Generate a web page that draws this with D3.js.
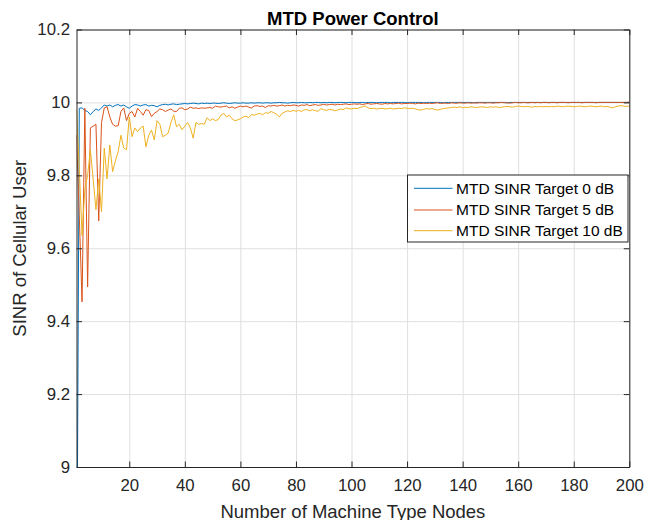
<!DOCTYPE html>
<html>
<head>
<meta charset="utf-8">
<script src="https://cdn.jsdelivr.net/npm/d3@7"></script>
<style>
  html, body { margin: 0; padding: 0; background: #fff; }
  svg { display: block; }
  text { font-family: "Liberation Sans", Arial, Helvetica, sans-serif; }
</style>
</head>
<body>
<svg id="chart" width="657" height="520"></svg>
<script>
// ---------------- data ----------------
const title = "MTD Power Control";
const xLabel = "Number of Machine Type Nodes";
const yLabel = "SINR of Cellular User";
const seriesNames = ["MTD SINR Target 0 dB", "MTD SINR Target 5 dB", "MTD SINR Target 10 dB"];
const xTicks = [20, 40, 60, 80, 100, 120, 140, 160, 180, 200];
const yTicks = [9, 9.2, 9.4, 9.6, 9.8, 10, 10.2];

const target0 = [
  8.45, 9.984, 9.985, 9.978, 9.975, 9.966, 9.975, 9.982, 9.978, 9.985, 9.993, 9.99, 9.993, 9.988, 9.992, 9.994, 9.99, 9.993, 9.988, 9.984,
  9.99, 9.994, 9.993, 9.99, 9.993, 9.994, 9.99, 9.992, 9.991, 9.988, 9.992, 9.994, 9.995, 9.993, 9.995, 9.996, 9.994, 9.995, 9.996, 9.997,
  9.996, 9.997, 9.998, 9.997, 9.996, 9.998, 9.997, 9.998, 9.997, 9.998, 9.998, 9.997, 9.998, 9.999, 9.998, 9.997, 9.998, 9.999, 9.998, 9.998,
  9.999, 9.998, 9.998, 9.999, 9.998, 9.999, 9.999, 9.998, 9.999, 9.999, 9.998, 9.999, 9.999, 10.0, 9.999, 9.999, 9.998, 9.999, 10.0, 9.999,
  9.999, 10.0, 9.999, 9.999, 10.0, 9.999, 10.0, 10.0, 9.999, 10.0, 9.999, 10.0, 10.0, 9.999, 10.0, 10.0, 10.0, 9.999, 10.0, 10.0,
  10.0, 9.999, 10.0, 10.0, 9.999, 10.0, 10.0, 10.0, 9.999, 10.0, 10.0, 10.0, 10.0, 9.999, 10.0, 10.0, 10.0, 10.0, 10.0, 9.999,
  10.0, 10.0, 10.0, 10.0, 10.0, 9.999, 10.0, 10.0, 10.0, 10.0, 10.0, 10.0, 9.999, 10.0, 10.0, 10.0, 10.0, 10.0, 10.0, 10.0,
  10.0, 10.0, 10.0, 9.999, 10.0, 10.0, 10.0, 10.0, 10.0, 10.0, 10.0, 10.0, 10.0, 10.0, 10.0, 9.999, 10.0, 10.0, 10.0, 10.0,
  10.0, 10.0, 10.0, 10.0, 10.0, 10.0, 10.0, 10.0, 10.0, 10.0, 10.0, 10.0, 10.0, 10.0, 10.0, 10.0, 10.0, 10.0, 10.0, 10.0,
  10.0, 10.0, 10.0, 10.0, 10.0, 10.0, 10.0, 10.0, 10.0, 10.0, 10.0, 10.0, 10.0, 10.0, 10.0, 10.0, 10.0, 10.0, 10.0, 10.0
];

const target5 = [
  9.91, 9.69, 9.453, 9.984, 9.494, 9.93, 9.935, 9.94, 9.675, 9.945, 9.985, 9.988, 9.96, 9.94, 9.935, 9.936, 9.975, 9.985, 9.95, 9.97,
  9.975, 9.96, 9.984, 9.975, 9.965, 9.98, 9.978, 9.961, 9.97, 9.975, 9.982, 9.98, 9.975, 9.979, 9.982, 9.976, 9.975, 9.984, 9.985, 9.98,
  9.982, 9.987, 9.984, 9.985, 9.983, 9.985, 9.984, 9.985, 9.986, 9.984, 9.99, 9.988, 9.987, 9.989, 9.99, 9.985, 9.988, 9.984, 9.987, 9.99,
  9.988, 9.99, 9.987, 9.985, 9.99, 9.991, 9.989, 9.99, 9.986, 9.991, 9.99, 9.992, 9.99, 9.991, 9.993, 9.99, 9.992, 9.991, 9.993, 9.992,
  9.99, 9.993, 9.992, 9.994, 9.991, 9.993, 9.994, 9.992, 9.993, 9.995, 9.993, 9.994, 9.995, 9.993, 9.995, 9.994, 9.995, 9.996, 9.994, 9.995,
  9.996, 9.995, 9.996, 9.994, 9.996, 9.997, 9.995, 9.996, 9.997, 9.996, 9.995, 9.997, 9.996, 9.997, 9.996, 9.997, 9.998, 9.996, 9.997, 9.997,
  9.998, 9.997, 9.996, 9.998, 9.997, 9.998, 9.997, 9.998, 9.997, 9.998, 9.999, 9.997, 9.998, 9.998, 9.997, 9.999, 9.998, 9.998, 9.999, 9.998,
  9.998, 9.999, 9.998, 9.999, 9.998, 9.999, 9.999, 9.998, 9.999, 9.999, 9.998, 9.999, 9.999, 10.0, 9.999, 9.999, 9.998, 9.999, 10.0, 9.999,
  9.999, 10.0, 9.999, 9.999, 10.0, 9.999, 10.0, 9.999, 10.0, 10.0, 9.999, 10.0, 10.0, 9.999, 10.0, 10.0, 10.0, 9.999, 10.0, 10.0,
  10.0, 10.0, 9.999, 10.0, 10.0, 10.0, 10.0, 9.999, 10.0, 10.0, 10.0, 10.0, 10.0, 10.0, 10.0, 10.0, 10.0, 10.0, 10.0, 10.001
];

const target10 = [
  9.98, 9.82, 9.635, 9.76, 9.80, 9.87, 9.79, 9.706, 9.79, 9.70, 9.875, 9.79, 9.883, 9.81, 9.84, 9.865, 9.91, 9.875, 9.87, 9.96,
  9.906, 9.93, 9.92, 9.93, 9.935, 9.878, 9.91, 9.924, 9.897, 9.95, 9.94, 9.906, 9.91, 9.916, 9.945, 9.966, 9.933, 9.94, 9.925, 9.935,
  9.945, 9.93, 9.902, 9.945, 9.94, 9.942, 9.94, 9.958, 9.95, 9.955, 9.95, 9.953, 9.965, 9.97, 9.96, 9.965, 9.955, 9.95, 9.952, 9.955,
  9.96, 9.962, 9.958, 9.967, 9.965, 9.968, 9.97, 9.966, 9.972, 9.97, 9.975, 9.972, 9.968, 9.96, 9.97, 9.974, 9.977, 9.975, 9.978, 9.976,
  9.978, 9.975, 9.98, 9.98, 9.977, 9.98, 9.977, 9.976, 9.983, 9.98, 9.978, 9.981, 9.98, 9.977, 9.979, 9.982, 9.98, 9.985, 9.983, 9.982,
  9.984, 9.983, 9.986, 9.988, 9.99, 9.985, 9.983, 9.984, 9.982, 9.983, 9.984, 9.982, 9.983, 9.984, 9.982, 9.983, 9.984, 9.983, 9.985, 9.984,
  9.983, 9.984, 9.982, 9.98, 9.979, 9.981, 9.983, 9.982, 9.983, 9.981, 9.979, 9.981, 9.983, 9.984, 9.985, 9.986, 9.987, 9.986, 9.988, 9.985,
  9.987, 9.986, 9.988, 9.987, 9.986, 9.987, 9.988, 9.987, 9.986, 9.988, 9.987, 9.988, 9.986, 9.987, 9.988, 9.989, 9.988, 9.987, 9.989, 9.99,
  9.989, 9.988, 9.989, 9.988, 9.987, 9.989, 9.988, 9.989, 9.988, 9.989, 9.988, 9.989, 9.988, 9.99, 9.989, 9.988, 9.989, 9.99, 9.989, 9.988,
  9.989, 9.99, 9.989, 9.988, 9.989, 9.99, 9.989, 9.988, 9.989, 9.99, 9.988, 9.989, 9.987, 9.985, 9.988, 9.99, 9.991, 9.99, 9.989, 9.99
];

const allSeries = [target0, target5, target10];
const colors = ["#0072BD", "#D95319", "#EDB120"];

// ---------------- layout ----------------
const W = 657, H = 520;
const margin = { top: 29.5, right: 27.7, bottom: 53, left: 76.5 };
const iw = W - margin.left - margin.right;
const ih = H - margin.top - margin.bottom;
const axisColor = "#262626";
const font = '"Liberation Sans", Arial, Helvetica, sans-serif';

const svg = d3.select("#chart");
const g = svg.append("g").attr("transform", `translate(${margin.left},${margin.top})`);

const x = d3.scaleLinear().domain([1, 200]).range([0, iw]);
const y = d3.scaleLinear().domain([9, 10.2]).range([ih, 0]);
const fmtY = d => String(+d.toFixed(1));

// grid
g.append("g").attr("class", "grid")
  .attr("transform", `translate(0,${ih})`)
  .call(d3.axisBottom(x).tickValues(xTicks).tickSize(-ih).tickFormat(""))
  .call(s => s.select(".domain").remove())
  .call(s => s.selectAll("line").attr("stroke", "#dfdfdf").attr("stroke-width", 1));
g.append("g").attr("class", "grid")
  .call(d3.axisLeft(y).tickValues(yTicks).tickSize(-iw).tickFormat(""))
  .call(s => s.select(".domain").remove())
  .call(s => s.selectAll("line").attr("stroke", "#dfdfdf").attr("stroke-width", 1));

// lines
const clipId = "plotclip";
svg.append("defs").append("clipPath").attr("id", clipId)
  .append("rect").attr("x", 0).attr("y", 0).attr("width", iw).attr("height", ih);

const line = d3.line().x((d, i) => x(i + 1)).y(d => y(d));
const plot = g.append("g").attr("clip-path", `url(#${clipId})`);
allSeries.forEach((s, k) => {
  plot.append("path").datum(s)
    .attr("fill", "none")
    .attr("stroke", colors[k])
    .attr("stroke-width", 1)
    .attr("stroke-linejoin", "round")
    .attr("d", line);
});

// axes (ticks inside)
const tickLen = 5.5;
const bottomAxis = g.append("g").attr("transform", `translate(0,${ih})`)
  .call(d3.axisBottom(x).tickValues(xTicks).tickSizeInner(-tickLen).tickSizeOuter(0).tickFormat(d3.format("d")));
bottomAxis.selectAll("text").attr("y", 24).attr("dy", null).style("font-size", "16.8px");

const leftAxis = g.append("g")
  .call(d3.axisLeft(y).tickValues(yTicks).tickSizeInner(-tickLen).tickSizeOuter(0).tickFormat(fmtY));
leftAxis.selectAll("text").attr("x", -6.5).style("font-size", "16.8px");

const topAxis = g.append("g")
  .call(d3.axisTop(x).tickValues(xTicks).tickSizeInner(-tickLen).tickSizeOuter(0).tickFormat(""));
const rightAxis = g.append("g").attr("transform", `translate(${iw},0)`)
  .call(d3.axisRight(y).tickValues(yTicks).tickSizeInner(-tickLen).tickSizeOuter(0).tickFormat(""));

[bottomAxis, leftAxis, topAxis, rightAxis].forEach(a => {
  a.selectAll(".domain").attr("stroke", axisColor);
  a.selectAll("line").attr("stroke", axisColor);
  a.selectAll("text").attr("fill", axisColor).style("font-family", font);
});

// title & labels
svg.append("text")
  .attr("x", margin.left + iw / 2).attr("y", 24.5)
  .attr("text-anchor", "middle")
  .style("font-size", "18.5px").style("font-weight", "bold")
  .attr("fill", "#000")
  .text(title);

svg.append("text")
  .attr("x", margin.left + iw / 2).attr("y", 517.5)
  .attr("text-anchor", "middle")
  .style("font-size", "18.5px")
  .attr("fill", axisColor)
  .text(xLabel);

svg.append("text")
  .attr("transform", `translate(26,${margin.top + ih / 2}) rotate(-90)`)
  .attr("text-anchor", "middle")
  .style("font-size", "18.5px")
  .attr("fill", axisColor)
  .text(yLabel);

// legend
const lg = svg.append("g").attr("transform", "translate(407.5,175)");
lg.append("rect").attr("width", 220.5).attr("height", 67)
  .attr("fill", "#fff").attr("stroke", axisColor).attr("stroke-width", 1);
const rowY = [13.3, 35, 55.7];
seriesNames.forEach((name, k) => {
  lg.append("line").attr("x1", 6.5).attr("x2", 45)
    .attr("y1", rowY[k]).attr("y2", rowY[k])
    .attr("stroke", colors[k]).attr("stroke-width", 1);
  lg.append("text").attr("x", 48.5).attr("y", rowY[k]).attr("dy", "0.35em")
    .style("font-size", "15.5px").attr("fill", "#000")
    .text(name);
});
</script>
</body>
</html>
